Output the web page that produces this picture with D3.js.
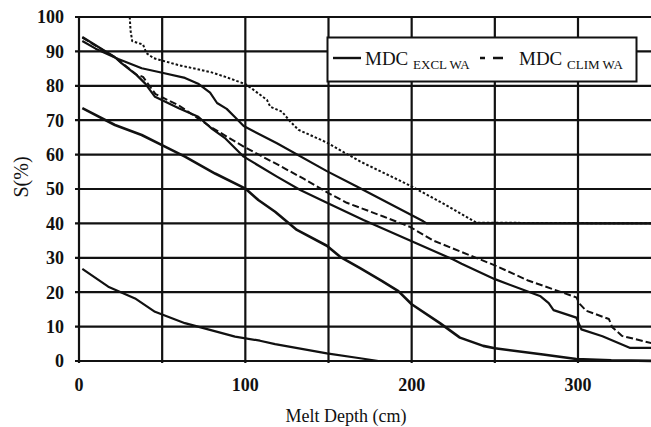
<!DOCTYPE html>
<html>
<head>
<meta charset="utf-8">
<script src="https://cdn.jsdelivr.net/npm/d3@7"></script>
<style>
  html, body { margin: 0; padding: 0; background: #ffffff; }
  svg { display: block; font-family: "Liberation Serif", "DejaVu Serif", serif; }
</style>
</head>
<body>
<div id="chart"></div>
<script>
// Melt depth (cm) / S (%) pairs
const dottedDepth = [30.5, 31, 32, 35, 38.5, 40.5, 45, 60, 79, 88, 100, 105, 113, 115, 122, 127, 132, 149, 169, 199, 220, 239, 350];
const dottedS     = [100, 96, 93, 92.5, 92, 89.5, 88, 86, 84, 82.6, 80.5, 78.8, 75.9, 73.9, 72.5, 69.6, 67.2, 63.5, 58, 51, 45.5, 40.2, 40];

const upperDepth = [2, 10, 23.6, 37.7, 50, 63.7, 72, 78.8, 83, 88.8, 94, 99, 119, 149, 167, 207, 209, 350];
const upperS     = [93, 90.8, 87.8, 85.1, 83.8, 82.3, 80.5, 78, 75, 73.3, 70.8, 68.3, 63.3, 55.2, 50.7, 40.6, 40, 40];

const dashedDepth = [2, 21.6, 34.7, 38.5, 42, 46, 60, 79, 99, 119, 135, 150, 161, 183, 199, 213, 230, 250, 270, 299, 301, 305, 318.6, 320.6, 326.5, 350];
const dashedS     = [94, 88.3, 83.2, 82.6, 80.2, 77.6, 74.3, 68.1, 62.3, 57.2, 53, 48.8, 46, 42, 39, 35, 31.7, 27.8, 23.4, 18.5, 16.6, 14.6, 12.2, 9.8, 7.3, 4.5];

const middleDepth = [2, 21.6, 25.7, 34.7, 39.7, 45.7, 60, 71.7, 80, 88, 99, 119, 133, 150, 171, 199, 225, 230, 250, 277.5, 282.4, 285.3, 299, 302, 314.7, 331.4, 350];
const middleS     = [94.2, 88.3, 86.5, 83.1, 80.7, 76.8, 73.5, 71, 67.5, 64.7, 59.4, 53.6, 49.7, 45.8, 41, 35, 29.5, 28.3, 23.8, 18.8, 16.8, 14.8, 12.6, 9.2, 7.2, 3.8, 3.8];

const lowerDepth = [2, 21.6, 37.7, 51.7, 63.7, 81.8, 99.8, 107.8, 117.9, 131, 149, 157, 169, 182, 192, 200, 217, 229, 243, 250, 279, 299, 320, 350];
const lowerS     = [73.5, 68.6, 65.7, 62.3, 59.4, 54.5, 50.2, 46.8, 43.4, 38.1, 33.5, 30.3, 27, 23.3, 20.3, 16.5, 11, 6.8, 4.4, 3.7, 1.9, 0.6, 0.2, 0];

const bottomDepth = [2, 17.6, 33.7, 45.7, 63.7, 93.8, 108.8, 117.9, 149, 169, 180];
const bottomS     = [26.8, 21.6, 18.2, 14.3, 11, 7.1, 5.9, 4.9, 2.2, 0.8, 0];

const depthGrid   = [0, 50, 100, 150, 200, 250, 300, 350];
const depthLabels = [0, 100, 200, 300];
const sTicks      = [0, 10, 20, 30, 40, 50, 60, 70, 80, 90, 100];

function drawChart(containerSelector) {
  d3.select(containerSelector).select('svg').remove();

  const fullWidth = 651, fullHeight = 427;
  const margin = { top: 17, left: 79, bottom: 66 };
  const height = fullHeight - margin.top - margin.bottom;

  const svg = d3.select(containerSelector)
    .append('svg')
    .attr('width', fullWidth)
    .attr('height', fullHeight);

  // plot runs off the right side of the picture
  const x = d3.scaleLinear().domain([0, 300]).range([margin.left, 578]);
  const y = d3.scaleLinear().domain([0, 100]).range([margin.top + height, margin.top]);

  const grid = svg.append('g').attr('stroke', '#111').attr('stroke-width', 2.2);

  // horizontal grid lines, with small ticks out to the left
  grid.selectAll('.hgrid')
    .data(sTicks)
    .enter()
    .append('line')
    .attr('x1', x(0) - 4)
    .attr('x2', fullWidth)
    .attr('y1', d => y(d))
    .attr('y2', d => y(d));

  // vertical grid lines
  grid.selectAll('.vgrid')
    .data(depthGrid)
    .enter()
    .append('line')
    .attr('x1', d => x(d))
    .attr('x2', d => x(d))
    .attr('y1', y(100))
    .attr('y2', y(0) + 2);

  // Y tick labels
  svg.selectAll('.ylab')
    .data(sTicks)
    .enter()
    .append('text')
    .attr('x', x(0) - 15)
    .attr('y', d => y(d))
    .attr('dy', '0.36em')
    .attr('text-anchor', 'end')
    .style('font-size', '18px')
    .style('font-weight', 'bold')
    .attr('fill', '#111')
    .text(d => d);

  // X tick labels
  svg.selectAll('.xlab')
    .data(depthLabels)
    .enter()
    .append('text')
    .attr('x', d => x(d))
    .attr('y', y(0) + 30)
    .attr('text-anchor', 'middle')
    .style('font-size', '18px')
    .style('font-weight', 'bold')
    .attr('fill', '#111')
    .text(d => d);

  // Axis titles
  svg.append('text')
    .attr('x', 346)
    .attr('y', 422)
    .attr('text-anchor', 'middle')
    .style('font-size', '18px')
    .attr('fill', '#111')
    .text('Melt Depth (cm)');

  svg.append('text')
    .attr('transform', 'translate(28,177) rotate(-90)')
    .attr('text-anchor', 'middle')
    .style('font-size', '20px')
    .attr('fill', '#111')
    .text('S(%)');

  // Curves
  const line = d3.line()
    .x(d => x(d[0]))
    .y(d => y(d[1]));

  const series = [
    { depth: dottedDepth, s: dottedS, dash: '2.5,2', width: 2 },
    { depth: upperDepth, s: upperS, dash: null, width: 2.2 },
    { depth: dashedDepth, s: dashedS, dash: '7,3', width: 2 },
    { depth: middleDepth, s: middleS, dash: null, width: 2.2 },
    { depth: lowerDepth, s: lowerS, dash: null, width: 2.6 },
    { depth: bottomDepth, s: bottomS, dash: null, width: 2.2 }
  ];

  svg.append('g')
    .selectAll('path')
    .data(series)
    .enter()
    .append('path')
    .attr('d', d => line(d.depth.map((v, i) => [v, d.s[i]])))
    .attr('fill', 'none')
    .attr('stroke', '#111')
    .attr('stroke-width', d => d.width)
    .attr('stroke-dasharray', d => d.dash)
    .attr('stroke-linejoin', 'round');

  // Legend
  const legend = svg.append('g');
  legend.append('rect')
    .attr('x', 327.5)
    .attr('y', 37.5)
    .attr('width', 309)
    .attr('height', 44)
    .attr('fill', '#ffffff')
    .attr('stroke', '#111')
    .attr('stroke-width', 2);

  legend.append('line')
    .attr('x1', 333).attr('x2', 361)
    .attr('y1', 58).attr('y2', 58)
    .attr('stroke', '#111').attr('stroke-width', 2.4);

  legend.append('line')
    .attr('x1', 480).attr('x2', 503)
    .attr('y1', 58).attr('y2', 58)
    .attr('stroke', '#111').attr('stroke-width', 2.4)
    .attr('stroke-dasharray', '5,8,10');

  const legendText = [
    { x: 365, main: 'MDC', sub: 'EXCL WA' },
    { x: 519, main: 'MDC', sub: 'CLIM WA' }
  ];

  legendText.forEach(t => {
    const txt = legend.append('text')
      .attr('x', t.x)
      .attr('y', 65)
      .attr('fill', '#111')
      .style('font-size', '19px');
    txt.append('tspan').text(t.main + ' ');
    txt.append('tspan')
      .attr('dy', 4)
      .style('font-size', '13px')
      .text(t.sub);
  });
}

drawChart('#chart');
</script>
</body>
</html>
